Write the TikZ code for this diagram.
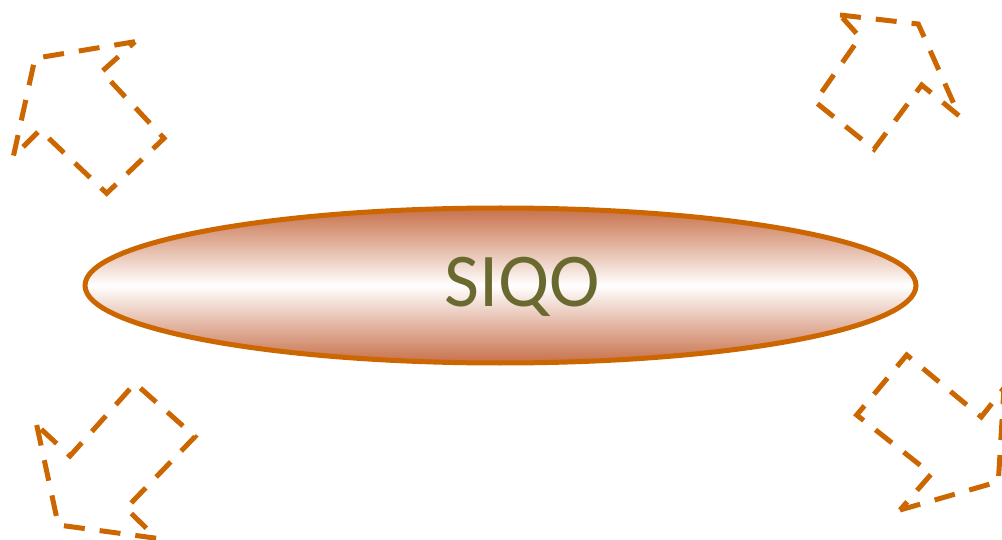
\documentclass[tikz,border=0pt]{standalone}
\usepackage{fontspec}
\newfontfamily\ovalfont{Carlito}
\usetikzlibrary{shapes.geometric}
\definecolor{rimorange}{HTML}{CC6600}
\definecolor{ovalshade}{HTML}{C8704A}
\definecolor{olivetext}{HTML}{6A6A30}
\begin{document}
\begin{tikzpicture}[x=1pt, y=-1pt,
  dasharrow/.style={draw=rimorange, line width=5pt, dash pattern=on 21pt off 15pt},
  oval/.style={ellipse, draw=rimorange, line width=5pt, inner sep=0pt,
    minimum width=831pt, minimum height=155pt,
    top color=ovalshade, bottom color=ovalshade, middle color=white},
  ovallabel/.style={text=olivetext, inner sep=0pt, font=\ovalfont\fontsize{76}{90}\selectfont}]
  \useasboundingbox (0,0) rectangle (1002,540);
  \draw[dasharrow] (135.0,41.7) -- (35.0,58.3) -- (13.3,156.7) -- (40.0,130.0) -- (106.7,193.3) -- (164.0,138.3) -- (101.7,71.7) -- cycle;
  \draw[dasharrow] (840.0,15.0) -- (918.3,24.0) -- (959.3,116.0) -- (921.7,85.0) -- (874.0,149.3) -- (815.0,101.7) -- (860.0,37.3) -- cycle;
  \draw[dasharrow] (36.7,425.0) -- (58.3,525.0) -- (156.7,538.3) -- (126.0,508.3) -- (195.0,436.7) -- (135.0,383.3) -- (70.0,456.0) -- cycle;
  \draw[dasharrow] (900.0,510.0) -- (998.3,481.7) -- (1004.0,388.0) -- (981.3,417.0) -- (906.7,355.0) -- (856.7,415.0) -- (931.3,474.0) -- cycle;
  \node[oval] (siqo) at (500.5,285.5) {};
  \node[ovallabel] (siqotext) at (522.0,287.0) {SIQO};
\end{tikzpicture}
\end{document}
